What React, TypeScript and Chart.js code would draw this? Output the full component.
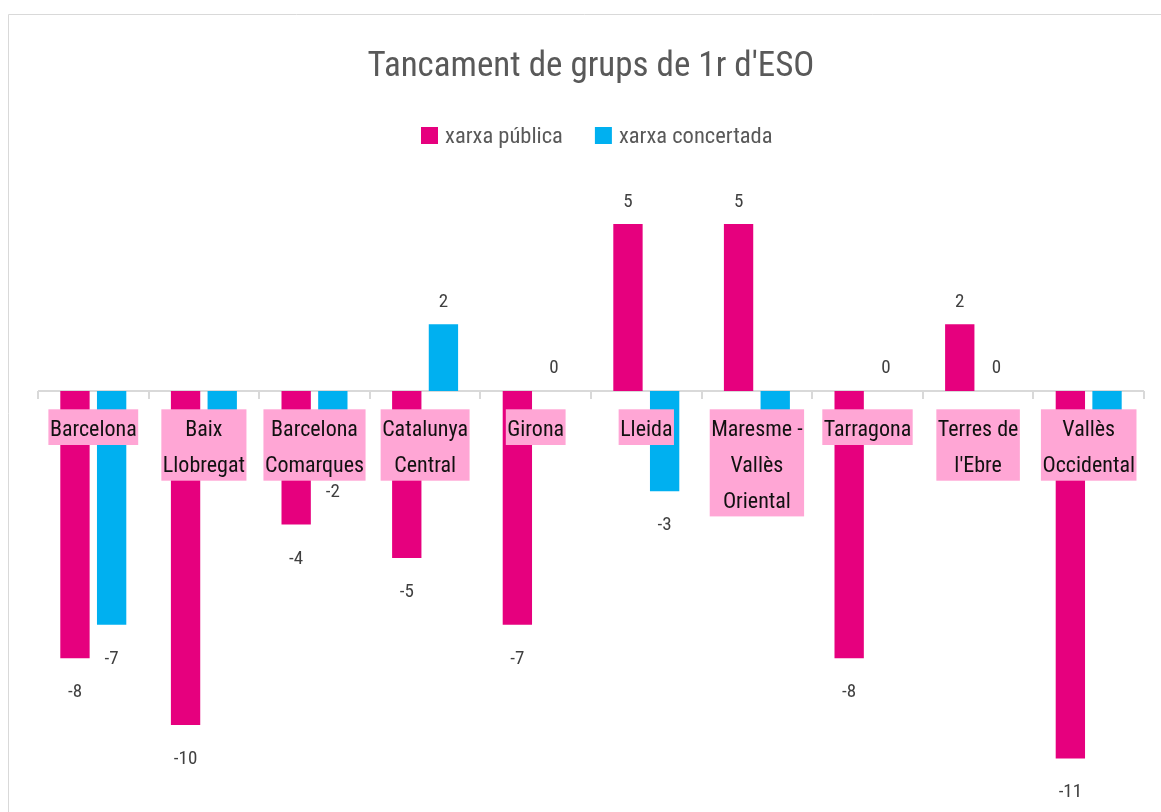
import React, { useEffect, useRef } from "react";
import { Chart, registerables } from "chart.js";

Chart.register(...registerables);

const TITLE = "Tancament de grups de 1r d'ESO";
const categories: string[][] = [
  ["Barcelona"],
  ["Baix", "Llobregat"],
  ["Barcelona", "Comarques"],
  ["Catalunya", "Central"],
  ["Girona"],
  ["Lleida"],
  ["Maresme -", "Vallès", "Oriental"],
  ["Tarragona"],
  ["Terres de", "l'Ebre"],
  ["Vallès", "Occidental"],
];
const seriesNames = ["xarxa pública", "xarxa concertada"];
const publica = [-8, -10, -4, -5, -7, 5, 5, -8, 2, -11];
const concertada = [-7, -1, -2, 2, 0, -3, -1, 0, 0, -1];
const colors = ["#e6007e", "#00b0f0"];

const FONT = "'Roboto Condensed', 'DejaVu Sans Condensed', sans-serif";

const decorPlugin = {
  id: "decor",
  beforeDatasetsDraw(chart: any) {
    const { ctx, chartArea, scales } = chart;
    const y0 = scales.y.getPixelForValue(0);
    ctx.save();
    // chart border
    ctx.strokeStyle = "#d9d9d9";
    ctx.lineWidth = 1;
    ctx.beginPath();
    ctx.moveTo(8.5, 812);
    ctx.lineTo(8.5, 14.5);
    ctx.lineTo(1161, 14.5);
    ctx.stroke();
    // title
    ctx.fillStyle = "#595959";
    ctx.font = `35px ${FONT}`;
    ctx.textAlign = "center";
    ctx.textBaseline = "alphabetic";
    ctx.fillText(TITLE, 591, 76);
    // legend
    ctx.font = `22.5px ${FONT}`;
    ctx.textAlign = "left";
    const items = chart.data.datasets.map((d: any) => d.label);
    let x = 421;
    const gap = 32;
    items.forEach((lab: string, i: number) => {
      ctx.fillStyle = colors[i];
      ctx.fillRect(x, 127, 17, 17);
      ctx.fillStyle = "#595959";
      ctx.fillText(lab, x + 24, 142.5);
      x += 24 + ctx.measureText(lab).width + gap;
    });
    // zero axis
    ctx.strokeStyle = "#d9d9d9";
    ctx.lineWidth = 2;
    ctx.beginPath();
    ctx.moveTo(chartArea.left, y0);
    ctx.lineTo(chartArea.right, y0);
    const n = categories.length;
    const w = (chartArea.right - chartArea.left) / n;
    for (let i = 0; i <= n; i++) {
      const xx = Math.round(chartArea.left + i * w);
      ctx.moveTo(xx, y0);
      ctx.lineTo(xx, y0 + 8);
    }
    ctx.stroke();
    ctx.restore();
  },
  afterDatasetsDraw(chart: any) {
    const { ctx, scales } = chart;
    const y0 = scales.y.getPixelForValue(0);
    ctx.save();
    // data labels
    ctx.font = `19px ${FONT}`;
    ctx.fillStyle = "#404040";
    ctx.textAlign = "center";
    ctx.textBaseline = "alphabetic";
    chart.data.datasets.forEach((ds: any, di: number) => {
      const meta = chart.getDatasetMeta(di);
      meta.data.forEach((bar: any, i: number) => {
        const v = ds.data[i];
        const yv = scales.y.getPixelForValue(v);
        let ty;
        if (v > 0) ty = yv - 17;
        else if (v < 0) ty = yv + 39;
        else ty = y0 - 18.5;
        ctx.fillText(String(v), bar.x, ty);
      });
    });
    // category label boxes
    ctx.font = `22px ${FONT}`;
    const lh = 35.7;
    categories.forEach((lines, i) => {
      const cx = scales.x.getPixelForValue(i);
      const tw = Math.max(...lines.map((l) => ctx.measureText(l).width));
      const top = y0 + 18.3;
      ctx.fillStyle = "#ffa6d5";
      ctx.fillRect(cx - tw / 2 - 1.5, top, tw + 3, lh * lines.length);
      ctx.fillStyle = "#111111";
      lines.forEach((l, j) => {
        ctx.fillText(l, cx, top + 27 + j * lh);
      });
    });
    ctx.restore();
  },
};

export default function App() {
  const ref = useRef<HTMLCanvasElement>(null);
  useEffect(() => {
    document.body.style.overflow = "hidden";
    const chart = new Chart(ref.current!, {
      type: "bar",
      data: {
        labels: categories.map((c) => c.join(" ")),
        datasets: [
          { label: seriesNames[0], data: publica, backgroundColor: colors[0] },
          { label: seriesNames[1], data: concertada, backgroundColor: colors[1] },
        ],
      },
      options: {
        responsive: false,
        animation: false,
        layout: { padding: { left: 38, right: 17, top: 190.6, bottom: 20.2 } },
        datasets: { bar: { barPercentage: 0.8, categoryPercentage: 0.663 } },
        plugins: { legend: { display: false }, title: { display: false }, tooltip: { enabled: false } },
        scales: {
          x: { display: false },
          y: { display: false, min: -12, max: 6 },
        },
      },
      plugins: [decorPlugin],
    });
    return () => chart.destroy();
  }, []);
  return (
    <div style={{ position: "fixed", left: 0, top: 0, width: 1161, height: 812, overflow: "hidden", background: "#fff" }}>
      <canvas ref={ref} width={1161} height={812} />
    </div>
  );
}
